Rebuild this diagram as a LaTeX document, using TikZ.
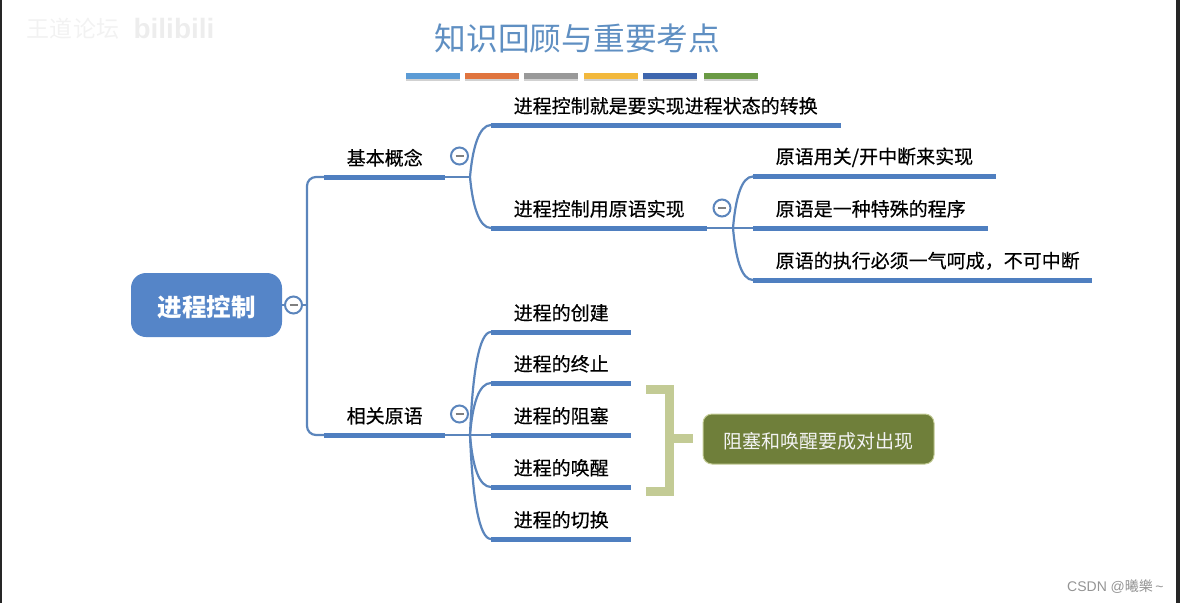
\documentclass[tikz,border=0pt]{standalone}
\usepackage{fontspec}
\usepackage{xcolor}
\setmainfont{Noto Sans CJK SC}
\newfontfamily\latinfont{Liberation Sans}
\newfontfamily\heavyfont[FakeBold=0.4]{Noto Sans CJK SC}
\usetikzlibrary{positioning}

\definecolor{linkblue}{HTML}{5B85BC}
\definecolor{barblue}{HTML}{4F7FC0}
\definecolor{rootblue}{HTML}{5585C8}
\definecolor{titleblue}{HTML}{5F8FC2}
\definecolor{noteolive}{HTML}{6F7F3A}
\definecolor{bracegreen}{HTML}{C3CB95}

\tikzset{
  topic/.style={anchor=south west, minimum height=38pt, inner ysep=0pt, inner xsep=22.5pt,
                text width=#1pt-45pt, align=left, font=\fontsize{19}{19}\selectfont\heavyfont,
                append after command={(\tikzlastnode.south west) edge[underbar] (\tikzlastnode.south east)}},
  underbar/.style={draw=barblue, line width=5pt},
  link/.style={draw=linkblue, line width=2.2pt},
  foldmark/.style={circle, draw=linkblue, line width=2pt, fill=white, inner sep=0pt, minimum size=17pt,
                   path picture={\draw[black!50, line width=1.6pt] ([xshift=-4pt]path picture bounding box.center) -- ([xshift=4pt]path picture bounding box.center);}},
  strip/.style={minimum width=54pt, minimum height=6.5pt, inner sep=0pt}
}

\begin{document}
\begin{tikzpicture}[x=1pt,y=-1pt]
\useasboundingbox (0,0) rectangle (1180,603);
\fill[black!85] (0,0) rectangle (1.5,603);
\fill[black!85] (1176,0) rectangle (1180,603);

% watermark
\node[text=black!5, font=\fontsize{23}{23}\selectfont] (mark) at (73,29) {王道论坛};
\node[text=black!7, font=\fontsize{28}{28}\selectfont\latinfont\bfseries] (logo) at (174,28) {bilibili};

% title and colour strips
\node[text=titleblue, font=\fontsize{31.7}{32}\selectfont] (title) at (577.5,38) {知识回顾与重要考点};
\foreach \name/\xpos/\col in {a/433/5B9BD5, b/491.5/E0743E, c/551/999999, d/611/F2B83C, e/670/3E66AE, f/731/6A9A44}{
  \definecolor{stripcol}{HTML}{\col}
  \fill[black!18] (\xpos-27,75) rectangle (\xpos+27,81);
  \node[strip, fill=stripcol] (strip\name) at (\xpos,76) {};
}

% root
\node[fill=rootblue, rounded corners=15pt, minimum width=151pt, minimum height=64pt, inner sep=0pt,
      text height=26pt, text depth=3pt,
      text=white, font=\fontsize{24.5}{25}\selectfont\bfseries] (root) at (206.5,305) {进程控制};

% first level
\node[topic=121] (concept) at (324,177) {基本概念};
\node[topic=121] (prim) at (324,435) {相关原语};

% second level
\node[topic=350] (ctrlA) at (491,125) {进程控制就是要实现进程状态的转换};
\node[topic=216] (ctrlB) at (491,228) {进程控制用原语实现};
\node[topic=243] (atomA) at (753,176.5) {原语用关/开中断来实现};
\node[topic=235] (atomB) at (753,228) {原语是一种特殊的程序};
\node[topic=339] (atomC) at (753,280) {原语的执行必须一气呵成，不可中断};
\node[topic=140] (procA) at (491,332) {进程的创建};
\node[topic=140] (procB) at (491,383) {进程的终止};
\node[topic=140] (procC) at (491,435) {进程的阻塞};
\node[topic=140] (procD) at (491,487) {进程的唤醒};
\node[topic=140] (procE) at (491,539) {进程的切换};

% junctions
\coordinate (rootJ) at (307,305);
\coordinate (conceptJ) at (470,177);
\coordinate (ctrlJ) at (733,228);
\coordinate (primJ) at (470,435);

\draw[link] (root.east |- rootJ) -- (rootJ);
\draw[link, rounded corners=9pt] (concept.south west) -| (rootJ) |- (prim.south west);
\draw[link] (concept.south east) -- (conceptJ);
\draw[link] (ctrlB.south east) -- (ctrlJ);
\draw[link] (prim.south east) -- (primJ);

\foreach \name/\dy in {ctrlA/-52, ctrlB/51}
  \draw[link] (conceptJ) .. controls +(2.5,\dy*0.55) and +(-12,0) .. (\name.south west);
\foreach \name/\dy in {atomA/-51.5, atomC/52}
  \draw[link] (ctrlJ) .. controls +(2.5,\dy*0.55) and +(-12,0) .. (\name.south west);
\foreach \name/\dy in {procA/-103, procB/-52, procD/52, procE/104}
  \draw[link] (primJ) .. controls +(2.5,\dy*0.6) and +(-12,0) .. (\name.south west);
\draw[link] (ctrlJ) -- (atomB.south west);
\draw[link] (primJ) -- (procC.south west);

% fold marks
\node[foldmark] (foldRoot) at (293.5,305) {};
\node[foldmark] (foldConcept) at (459.5,156) {};
\node[foldmark] (foldCtrl) at (722,208) {};
\node[foldmark] (foldPrim) at (459.5,414) {};

% note
\node[fill=noteolive, draw=bracegreen, line width=1pt, rounded corners=9pt, minimum width=231pt, minimum height=50pt,
      inner sep=0pt, text height=22pt, text depth=3pt,
      text=white!95!black, font=\fontsize{19}{19}\selectfont] (note) at (818.5,439) {阻塞和唤醒要成对出现};
\coordinate (braceTip) at (693,438.5);
\coordinate (braceMid) at (669.5,438.5);
\draw[draw=bracegreen, line width=9pt] (646,389.5) -- (669.5,389.5) -- (669.5,491.5) -- (646,491.5);
\draw[draw=bracegreen, line width=9pt] (braceMid) -- (braceTip);

% corner credit
\node[anchor=east, text=black!42, font=\fontsize{14}{14}\selectfont] (credit) at (1167,586.5) {{\latinfont CSDN @}曦樂{\latinfont\,\textasciitilde}};
\end{tikzpicture}
\end{document}
